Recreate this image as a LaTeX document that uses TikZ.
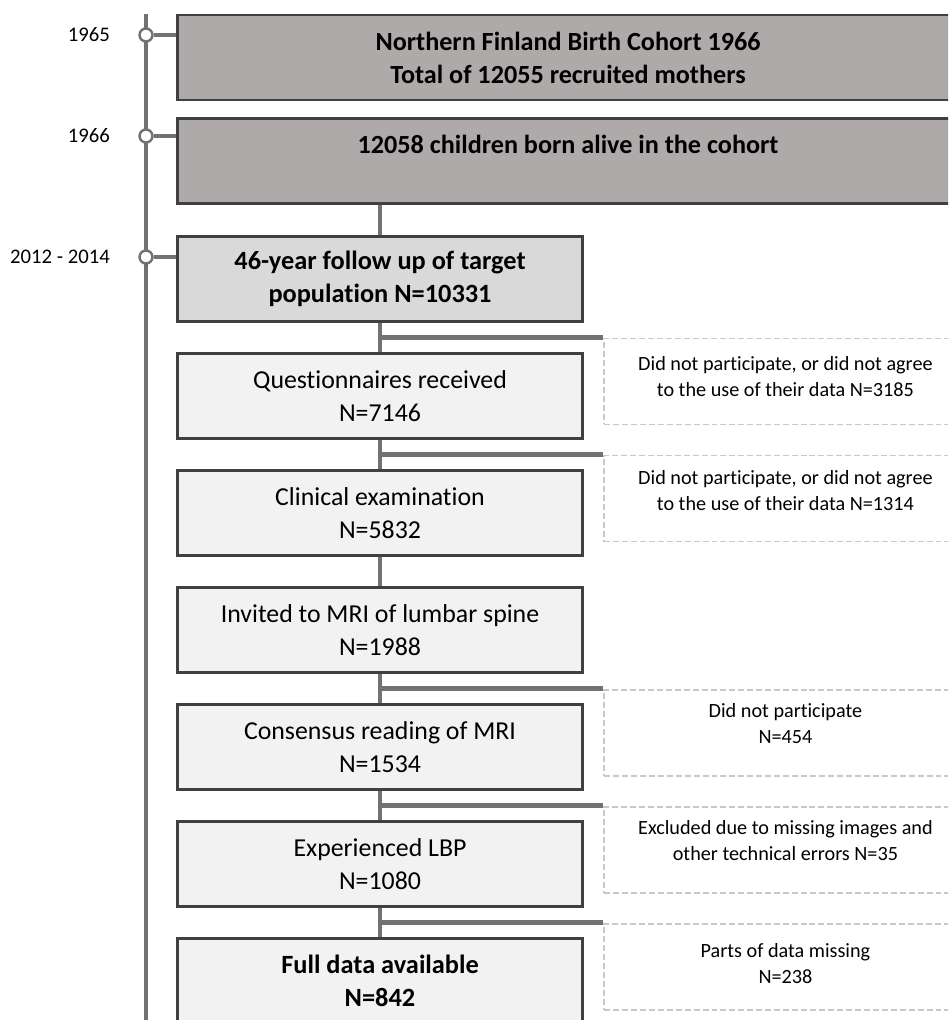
\documentclass[tikz,border=0pt]{standalone}
\usepackage{fontspec}
\setmainfont{Carlito}[Ligatures=NoCommon]
\usetikzlibrary{positioning}
\definecolor{CohortGray}{HTML}{AEAAAA}
\definecolor{TargetGray}{HTML}{D9D9D9}
\definecolor{StageGray}{HTML}{F2F2F2}
\definecolor{EdgeGray}{HTML}{404040}
\definecolor{LinkGray}{HTML}{767171}
\definecolor{DashGray}{HTML}{C8C8C8}
\tikzstyle{CohortBox}=[rectangle, draw=EdgeGray, fill=CohortGray, line width=1.6pt, minimum width=15.62cm, minimum height=1.70cm, align=center, font=\fontsize{14.9}{18.8}\selectfont\bfseries]
\tikzstyle{StageBox}=[rectangle, draw=EdgeGray, fill=StageGray, line width=1.6pt, minimum width=8.10cm, minimum height=1.70cm, align=center, font=\fontsize{14.7}{18.8}\selectfont]
\tikzstyle{TargetBox}=[StageBox, fill=TargetGray, font=\fontsize{15}{18.8}\selectfont\bfseries]
\tikzstyle{DropBox}=[rectangle, draw=DashGray, line width=1.1pt, dash pattern=on 3.4pt off 1.7pt, minimum width=7.26cm, minimum height=1.72cm]
\tikzstyle{DropText}=[align=center, font=\fontsize{11.5}{14.8}\selectfont, inner sep=0pt]
\tikzstyle{YearText}=[font=\fontsize{11.8}{14}\selectfont, inner sep=0pt]
\tikzstyle{YearDot}=[circle, draw=LinkGray, fill=white, line width=1.4pt, minimum size=0.26cm, inner sep=0pt]
\tikzstyle{Link}=[draw=LinkGray, line width=2pt]
\tikzstyle{Branch}=[draw=LinkGray, line width=2.8pt]
\tikzstyle{TimeLine}=[draw=LinkGray, line width=1.8pt]

\begin{document}
\begin{tikzpicture}[x=0.02cm, y=-0.02cm]
	\useasboundingbox (0,0) rectangle (948,1020);
	\clip (0,0) rectangle (948,1020);

	%Linea de tiempo
	\coordinate (tl_top) at (146,14);
	\coordinate (tl_bottom) at (146,1040);
	\coordinate (drop_x) at (603,0);
	\draw[TimeLine] (tl_top) -- (tl_bottom);

	%Nodos
	\node[CohortBox]	(cohort)	at (568,57.5)	{Northern Finland Birth Cohort 1966\\Total of 12055 recruited mothers};
	\node[CohortBox]	(born)		at (568,161)	{12058 children born alive in the cohort\\[-0.2cm]\strut};
	\node[TargetBox]	(target)	at (380,279)	{46-year follow up of target\\population N=10331};
	\node[StageBox]		(quest)		[below=0.585cm of target]	{Questionnaires received\\N=7146};
	\node[StageBox]		(clinic)	[below=0.585cm of quest]	{Clinical examination\\N=5832};
	\node[StageBox]		(mri)		[below=0.585cm of clinic]	{Invited to MRI of lumbar spine\\N=1988};
	\node[StageBox]		(reading)	[below=0.585cm of mri]		{Consensus reading of MRI\\N=1534};
	\node[StageBox]		(lbp)		[below=0.585cm of reading]	{Experienced LBP\\N=1080};
	\node[StageBox, font=\fontsize{15}{18.8}\selectfont\bfseries]	(full)	[below=0.585cm of lbp]	{Full data available\\N=842};

	%Años
	\node[YearDot]	(dot1965)	at (146,35)		{};
	\node[YearDot]	(dot1966)	at (146,136)	{};
	\node[YearDot]	(dot2012)	at (146,257)	{};
	\node[YearText]	(year1965)	[left=0.56cm of dot1965]	{1965};
	\node[YearText]	(year1966)	[left=0.56cm of dot1966]	{1966};
	\node[YearText]	(year2012)	[left=0.56cm of dot2012]	{2012 - 2014};

	%Puntos de corte
	\path (target.south) -- coordinate[midway] (split_quest) (quest.north);
	\path (quest.south) -- coordinate[midway] (split_clinic) (clinic.north);
	\path (mri.south) -- coordinate[midway] (split_reading) (reading.north);
	\path (reading.south) -- coordinate[midway] (split_lbp) (lbp.north);
	\path (lbp.south) -- coordinate[midway] (split_full) (full.north);

	%Excluidos
	\node[DropBox, anchor=north west]	(drop_quest)	at (split_quest -| drop_x)		{};
	\node[DropBox, anchor=north west]	(drop_clinic)	at (split_clinic -| drop_x)		{};
	\node[DropBox, anchor=north west]	(drop_reading)	at (split_reading -| drop_x)	{};
	\node[DropBox, anchor=north west]	(drop_lbp)		at (split_lbp -| drop_x)		{};
	\node[DropBox, anchor=north west]	(drop_full)		at (split_full -| drop_x)		{};
	\node[DropText]	(drop_quest_text)	[below=0.38cm of drop_quest.north]		{Did not participate, or did not agree\\to the use of their data N=3185};
	\node[DropText]	(drop_clinic_text)	[below=0.32cm of drop_clinic.north]		{Did not participate, or did not agree\\to the use of their data N=1314};
	\node[DropText]	(drop_reading_text)	[below=0.28cm of drop_reading.north]	{Did not participate\\N=454};
	\node[DropText]	(drop_lbp_text)		[below=0.28cm of drop_lbp.north]		{Excluded due to missing images and\\other technical errors N=35};
	\node[DropText]	(drop_full_text)	[below=0.40cm of drop_full.north]		{Parts of data missing\\N=238};

	%Lineas
	\draw[Link] (dot1965) -- (dot1965 -| cohort.west);
	\draw[Link] (dot1966) -- (dot1966 -| born.west);
	\draw[Link] (dot2012) -- (dot2012 -| target.west);
	\draw[Link] (target.north |- born.south) -- (target.north);
	\draw[Link] (target.south) -- (quest.north);
	\draw[Link] (quest.south) -- (clinic.north);
	\draw[Link] (clinic.south) -- (mri.north);
	\draw[Link] (mri.south) -- (reading.north);
	\draw[Link] (reading.south) -- (lbp.north);
	\draw[Link] (lbp.south) -- (full.north);
	\draw[Branch] (split_quest) -- (drop_quest.north west);
	\draw[Branch] (split_clinic) -- (drop_clinic.north west);
	\draw[Branch] (split_reading) -- (drop_reading.north west);
	\draw[Branch] (split_lbp) -- (drop_lbp.north west);
	\draw[Branch] (split_full) -- (drop_full.north west);
\end{tikzpicture}
\end{document}
